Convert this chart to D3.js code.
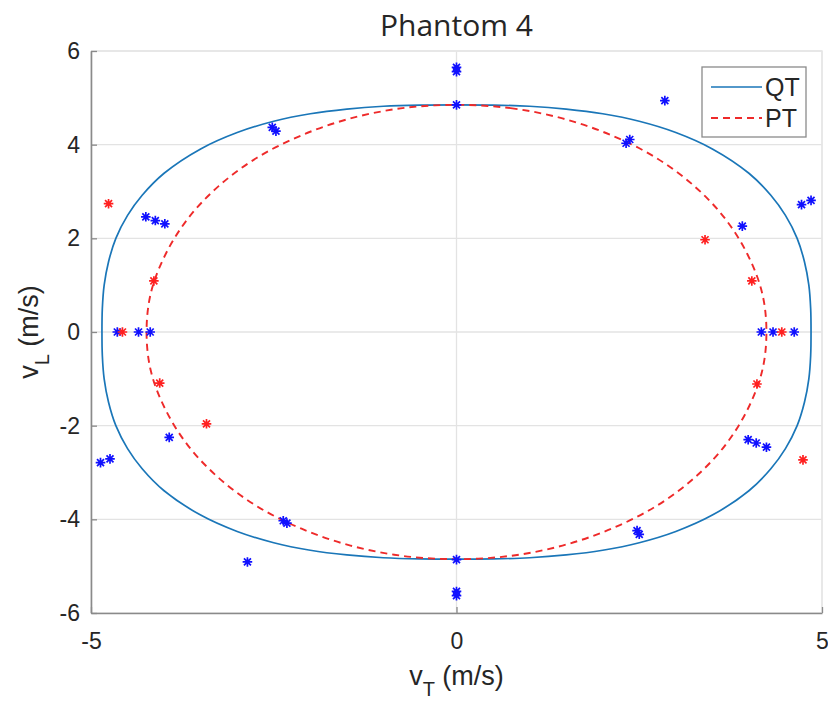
<!DOCTYPE html>
<html>
<head>
<meta charset="utf-8">
<script src="https://cdn.jsdelivr.net/npm/d3@7"></script>
<style>
  body { margin: 0; background: #fff; }
  svg text { font-family: "Liberation Sans", Arial, sans-serif; fill: #262626; }
</style>
</head>
<body>
<div id="chart"></div>
<script>
// ---- data ----
let titleText = `Phantom 4`;
let xTicks = [-5, 0, 5];
let yTicks = [-6, -4, -2, 0, 2, 4, 6];

// QT model curve (vT, vL), closed loop
let qtCurve = [
  [0, 4.85], [0.5, 4.845], [1, 4.82], [1.5, 4.76], [2, 4.66], [2.5, 4.5], [3, 4.26], [3.5, 3.91],
  [4, 3.39], [4.3, 2.92], [4.5, 2.49], [4.66, 2], [4.76, 1.5], [4.82, 1], [4.845, 0.5],
  [4.85, 0], [4.845, -0.5], [4.82, -1], [4.76, -1.5], [4.66, -2], [4.5, -2.49], [4.3, -2.92],
  [4, -3.39], [3.5, -3.91], [3, -4.26], [2.5, -4.5], [2, -4.66], [1.5, -4.76], [1, -4.82], [0.5, -4.845],
  [0, -4.85], [-0.5, -4.845], [-1, -4.82], [-1.5, -4.76], [-2, -4.66], [-2.5, -4.5], [-3, -4.26], [-3.5, -3.91],
  [-4, -3.39], [-4.3, -2.92], [-4.5, -2.49], [-4.66, -2], [-4.76, -1.5], [-4.82, -1], [-4.845, -0.5],
  [-4.85, 0], [-4.845, 0.5], [-4.82, 1], [-4.76, 1.5], [-4.66, 2], [-4.5, 2.49], [-4.3, 2.92],
  [-4, 3.39], [-3.5, 3.91], [-3, 4.26], [-2.5, 4.5], [-2, 4.66], [-1.5, 4.76], [-1, 4.82], [-0.5, 4.845]
];

// PT model curve (vT, vL), closed loop
let ptCurve = [
  [0, 4.85], [0.74, 4.78], [1.45, 4.56], [2.12, 4.2], [2.73, 3.72], [3.25, 3.12], [3.67, 2.43], [3.98, 1.66], [4.18, 0.84],
  [4.24, 0], [4.18, -0.84], [3.98, -1.66], [3.67, -2.43], [3.25, -3.12], [2.73, -3.72], [2.12, -4.2], [1.45, -4.56], [0.74, -4.78],
  [0, -4.85], [-0.74, -4.78], [-1.45, -4.56], [-2.12, -4.2], [-2.73, -3.72], [-3.25, -3.12], [-3.67, -2.43], [-3.98, -1.66], [-4.18, -0.84],
  [-4.24, 0], [-4.18, 0.84], [-3.98, 1.66], [-3.67, 2.43], [-3.25, 3.12], [-2.73, 3.72], [-2.12, 4.2], [-1.45, 4.56], [-0.74, 4.78]
];

// measured points, blue
let bluePoints = [
  [0, 5.65], [0, 5.56], [0, 4.85], [0, -4.86], [0, -5.54], [0, -5.63],
  [-2.52, 4.37], [-2.47, 4.29], [2.32, 4.03], [2.37, 4.11], [2.85, 4.94],
  [-4.25, 2.46], [-4.12, 2.38], [-3.99, 2.31],
  [-4.64, 0], [-4.35, 0], [-4.19, 0],
  [-3.93, -2.25], [-4.87, -2.79], [-4.74, -2.71], [-2.86, -4.91], [-2.37, -4.03], [-2.32, -4.08],
  [4.72, 2.72], [4.85, 2.81], [3.91, 2.26],
  [4.17, 0], [4.33, 0], [4.62, 0],
  [3.99, -2.3], [4.1, -2.37], [4.24, -2.46], [2.47, -4.24], [2.5, -4.32]
];

// measured points, red
let redPoints = [
  [-4.76, 2.74], [-4.14, 1.09], [-4.57, 0], [-4.06, -1.09], [-3.42, -1.96],
  [3.4, 1.97], [4.04, 1.09], [4.45, 0], [4.11, -1.11], [4.74, -2.73]
];

let legendItems = [`QT`, `PT`];

// ---- layout ----
let W = 828, H = 701;
let margin = { left: 91, right: 6, top: 51, bottom: 88 };
let width = W - margin.left - margin.right;
let height = H - margin.top - margin.bottom;

let svg = d3.select(`#chart`).append(`svg`)
  .attr(`width`, W)
  .attr(`height`, H)
  .attr(`font-family`, `"Liberation Sans", Arial, sans-serif`);

let graph = svg.append(`g`)
  .attr(`transform`, `translate(` + margin.left + `,` + margin.top + `)`);

let x = d3.scaleLinear().domain([-5, 5]).range([0, width]);
let y = d3.scaleLinear().domain([-6, 6]).range([height, 0]);

// grid
graph.append(`g`).attr(`class`, `grid`)
  .selectAll(`line.h`).data(yTicks).enter().append(`line`)
  .attr(`x1`, 0).attr(`x2`, width)
  .attr(`y1`, d => y(d)).attr(`y2`, d => y(d))
  .attr(`stroke`, `#e3e3e3`).attr(`stroke-width`, 1.3);
graph.append(`g`).attr(`class`, `grid`)
  .selectAll(`line.v`).data(xTicks).enter().append(`line`)
  .attr(`y1`, 0).attr(`y2`, height)
  .attr(`x1`, d => x(d)).attr(`x2`, d => x(d))
  .attr(`stroke`, `#e3e3e3`).attr(`stroke-width`, 1.3);

// box top/right (light)
graph.append(`path`)
  .attr(`d`, `M0,0H${width}V${height}`)
  .attr(`fill`, `none`).attr(`stroke`, `#e6e6e6`).attr(`stroke-width`, 1.5);

// curves
let line = d3.line()
  .x(d => x(d[0]))
  .y(d => y(d[1]))
  .curve(d3.curveCatmullRomClosed);

graph.append(`path`)
  .datum(qtCurve)
  .attr(`d`, line)
  .attr(`fill`, `none`)
  .attr(`stroke`, `#1a76b8`)
  .attr(`stroke-width`, 1.7);

graph.append(`path`)
  .datum(ptCurve)
  .attr(`d`, line)
  .attr(`fill`, `none`)
  .attr(`stroke`, `#ee2a2a`)
  .attr(`stroke-width`, 1.9)
  .attr(`stroke-dasharray`, `7,5`);

// star markers (+ and x)
let s = 4.8, s2 = 3.5;
let starPath = `M${-s},0H${s}M0,${-s}V${s}M${-s2},${-s2}L${s2},${s2}M${-s2},${s2}L${s2},${-s2}`;

function drawStars(data, color) {
  graph.append(`g`)
    .selectAll(`path`)
    .data(data)
    .enter()
    .append(`path`)
    .attr(`d`, starPath)
    .attr(`transform`, d => `translate(${x(d[0])},${y(d[1])})`)
    .attr(`fill`, `none`)
    .attr(`stroke`, color)
    .attr(`stroke-width`, 1.7);
}
drawStars(bluePoints, `#1010ff`);
drawStars(redPoints, `#ff2020`);

// axes (left / bottom)
let xAxis = graph.append(`g`)
  .attr(`class`, `x axis`)
  .attr(`transform`, `translate(0,` + height + `)`)
  .call(d3.axisBottom(x).tickValues(xTicks).tickFormat(d => `${d}`)
    .tickSizeInner(-6).tickSizeOuter(0).tickPadding(20));
let yAxis = graph.append(`g`)
  .attr(`class`, `y axis`)
  .call(d3.axisLeft(y).tickValues(yTicks).tickFormat(d => `${d}`)
    .tickSizeInner(-6).tickSizeOuter(0).tickPadding(11));

[xAxis, yAxis].forEach(a => {
  a.attr(`font-family`, null).attr(`font-size`, null);
  a.select(`.domain`).attr(`stroke`, `#8a8a8a`).attr(`stroke-width`, 1.6);
  a.selectAll(`.tick line`).attr(`stroke`, `#8a8a8a`).attr(`stroke-width`, 1.3);
  a.selectAll(`.tick text`)
    .style(`font-size`, `23px`)
    .attr(`fill`, `#262626`);
});

// title
svg.append(`text`)
  .attr(`x`, margin.left + x(0))
  .attr(`y`, 36)
  .attr(`text-anchor`, `middle`)
  .style(`font-family`, `"Open Sans", sans-serif`)
  .style(`font-size`, `30px`)
  .text(titleText);

// x label
let xl = svg.append(`text`)
  .attr(`x`, margin.left + x(0))
  .attr(`y`, 685)
  .attr(`text-anchor`, `middle`)
  .style(`font-size`, `27px`);
xl.append(`tspan`).text(`v`);
xl.append(`tspan`).attr(`dy`, 11).style(`font-size`, `20px`).text(`T`);
xl.append(`tspan`).attr(`dy`, -11).text(` (m/s)`);

// y label
let yl = svg.append(`text`)
  .attr(`transform`, `translate(38,` + (margin.top + y(0)) + `) rotate(-90)`)
  .attr(`text-anchor`, `middle`)
  .style(`font-size`, `27px`);
yl.append(`tspan`).text(`v`);
yl.append(`tspan`).attr(`dy`, 11).style(`font-size`, `20px`).text(`L`);
yl.append(`tspan`).attr(`dy`, -11).text(` (m/s)`);

// legend
let legend = svg.append(`g`).attr(`transform`, `translate(702,67)`);
legend.append(`rect`)
  .attr(`width`, 104).attr(`height`, 70)
  .attr(`fill`, `#fff`).attr(`stroke`, `#8a8a8a`).attr(`stroke-width`, 1.3);
let legendStyles = [
  { color: `#1a76b8`, dash: null, w: 1.7 },
  { color: `#ee2a2a`, dash: `7,5`, w: 1.9 }
];
legendItems.forEach((name, i) => {
  let yy = 20 + i * 31;
  legend.append(`line`)
    .attr(`x1`, 9).attr(`x2`, 60)
    .attr(`y1`, yy).attr(`y2`, yy)
    .attr(`stroke`, legendStyles[i].color)
    .attr(`stroke-width`, legendStyles[i].w)
    .attr(`stroke-dasharray`, legendStyles[i].dash);
  legend.append(`text`)
    .attr(`x`, 63).attr(`y`, yy + 9)
    .style(`font-size`, `25px`)
    .text(name);
});
</script>
</body>
</html>
